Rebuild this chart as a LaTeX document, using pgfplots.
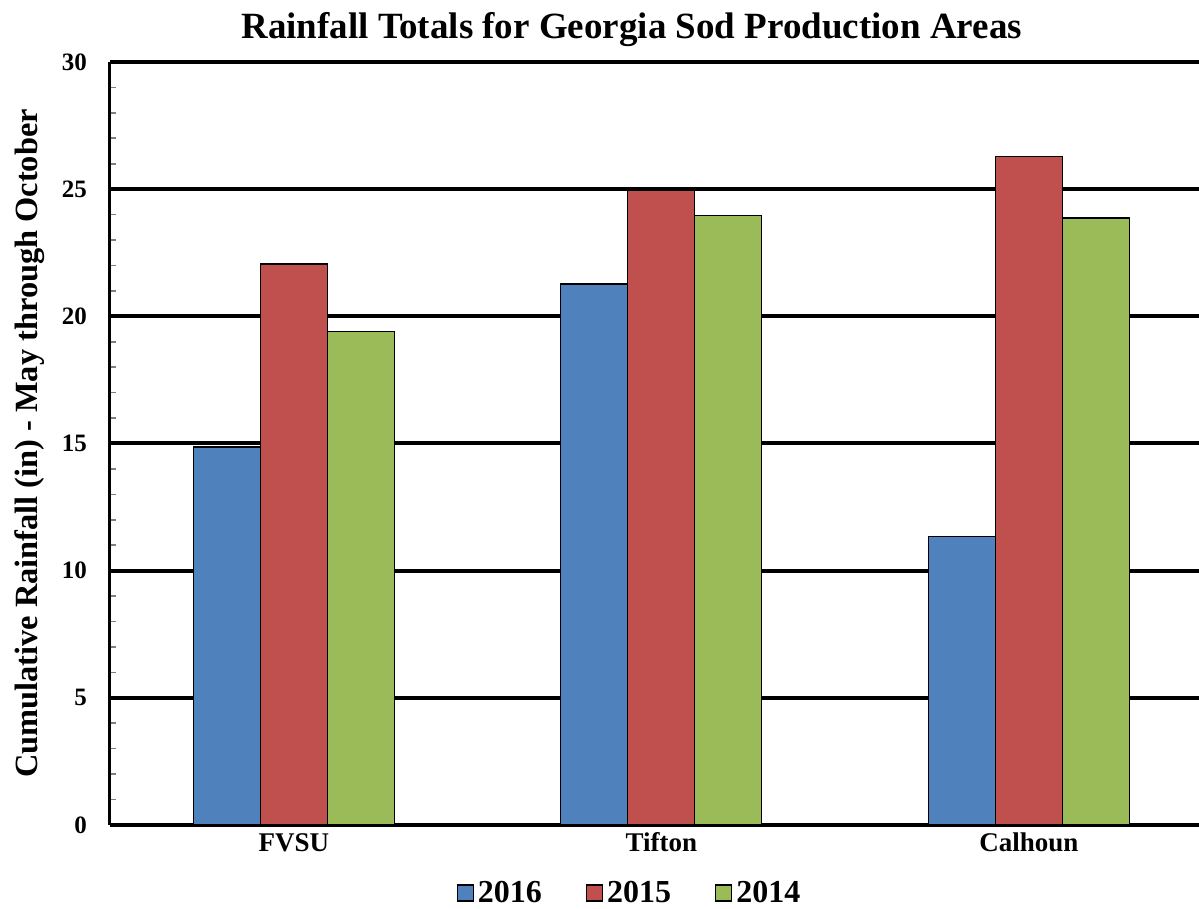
\documentclass[border=0pt]{standalone}
\usepackage{pgfplots}
\pgfplotsset{compat=1.18}
\usepackage{fontspec}
\setmainfont{Liberation Serif}
\definecolor{c16}{HTML}{4F81BD}
\definecolor{c15}{HTML}{C0504D}
\definecolor{c14}{HTML}{9BBB59}
\begin{document}
\begin{tikzpicture}
\begin{axis}[
  name=ax,
  scale only axis,
  width=544.5pt, height=381.5pt,
  xmin=-0.5, xmax=2.463,
  ymin=0, ymax=30,
  ybar=0pt, bar width=33.5pt,
  xtick={0,1,2},
  xticklabels={FVSU,Tifton,Calhoun},
  x tick label style={font=\fontsize{13.5}{14}\selectfont\bfseries, anchor=base, yshift=-13.5pt},
  ytick={0,5,...,30},
  minor y tick num=4,
  y tick label style={font=\fontsize{12.5}{13}\selectfont\bfseries, xshift=-8pt},
  /pgf/number format/assume math mode=true,
  axis x line=bottom, axis y line=left,
  axis line style={-, line width=1.5pt, black},
  x tick style={draw=none},
  major tick length=0pt,
  minor tick length=3pt,
  tick align=inside,
  minor y tick style={gray, line width=0.8pt},
  ymajorgrids,
  major grid style={black, line width=2pt},
  title={Rainfall Totals for Georgia Sod Production Areas},
  title style={font=\fontsize{18.5}{18.5}\selectfont\bfseries, at={(axis description cs:0.479,1)}, anchor=center, yshift=10pt},
  ylabel={Cumulative Rainfall (in) - May through October},
  ylabel style={font=\fontsize{16.2}{16.2}\selectfont\bfseries, at={(axis description cs:0,0.5)}, anchor=center, yshift=40pt},
  legend columns=3,
  legend style={draw=none, at={(axis description cs:0.478,-0.089)}, anchor=center,
    font=\fontsize{16}{16}\selectfont\bfseries,
    /tikz/every even column/.append style={column sep=20pt}},
  legend image code/.code={\draw[#1,draw=black,line width=0.6pt] (0pt,-4pt) rectangle (8pt,4pt);},
  every axis plot/.append style={draw=black, line width=0.6pt},
]
\addplot[fill=c16] coordinates {(0,14.86) (1,21.27) (2,11.33)};
\addplot[fill=c15] coordinates {(0,22.06) (1,24.97) (2,26.27)};
\addplot[fill=c14] coordinates {(0,19.39) (1,23.95) (2,23.87)};
\legend{2016,2015,2014}
\end{axis}
\pgfresetboundingbox
\path ([xshift=-55pt,yshift=-42pt]ax.south west) rectangle ([yshift=31pt]ax.north east);
\end{tikzpicture}
\end{document}
